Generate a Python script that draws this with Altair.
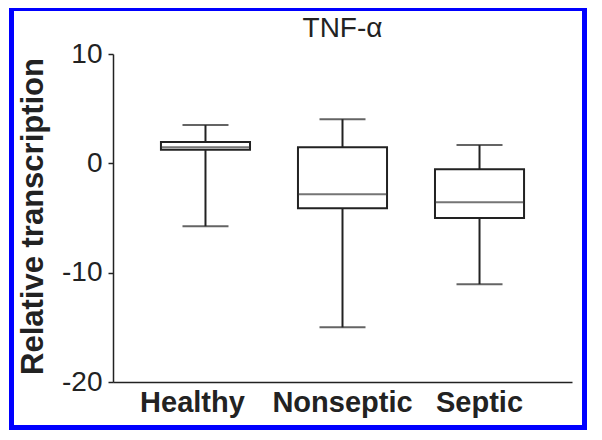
import altair as alt
import pandas as pd

# ---- data ----
groups = ["Healthy", "Nonseptic", "Septic"]
whisker_low = [-5.75, -15.0, -11.05]
q1 = [1.25, -4.1, -5.01]
median = [1.48, -2.82, -3.55]
q3 = [1.94, 1.48, -0.53]
whisker_high = [3.5, 4.04, 1.67]
y_ticks = [-20, -10, 0, 10]
title_text = ["TNF-α"]
y_title = "Relative transcription"

FONT = "Liberation Sans"
INK = "#222222"

df = pd.DataFrame({
    "group": groups,
    "low": whisker_low,
    "q1": q1,
    "median": median,
    "q3": q3,
    "high": whisker_high,
})

x_enc = alt.X(
    "group:N",
    sort=groups,
    scale=alt.Scale(paddingInner=0.35, paddingOuter=0.35),
    axis=alt.Axis(
        title=None, ticks=False, tickSize=0, labelAngle=0,
        labelFont=FONT, labelFontSize=29, labelFontWeight="bold",
        labelColor=INK, labelPadding=6, domainColor=INK, domainWidth=1.5,
        labelOffset={"condition": {"test": "datum.value === 'Healthy'", "value": -13}, "value": 0},
    ),
)

y_axis = alt.Axis(
    values=y_ticks, title=y_title, grid=False,
    labelExpr="datum.value + ''",
    labelFont=FONT, labelFontSize=28, labelColor=INK, labelPadding=6,
    tickSize=5, tickColor=INK, tickWidth=1.5,
    domainColor=INK, domainWidth=1.5,
    titleFont=FONT, titleFontSize=31, titleFontWeight="bold", titleColor=INK,
    titleAngle=270, titleX=-80, titleY=162, titleAlign="center", titleBaseline="middle",
)
y_scale = alt.Scale(domain=[-20, 10], nice=False, zero=False)

base = alt.Chart(df)

whisker = base.mark_rule(color=INK, strokeWidth=2).encode(
    x=x_enc,
    y=alt.Y("low:Q", scale=y_scale, axis=y_axis),
    y2="high:Q",
)
cap_low = base.mark_tick(color=INK, size=46, thickness=2).encode(
    x=x_enc, y=alt.Y("low:Q", scale=y_scale, axis=y_axis)
)
cap_high = base.mark_tick(color=INK, size=46, thickness=2).encode(
    x=x_enc, y=alt.Y("high:Q", scale=y_scale, axis=y_axis)
)
box = base.mark_bar(fill="white", stroke=INK, strokeWidth=2).encode(
    x=x_enc,
    y=alt.Y("q1:Q", scale=y_scale, axis=y_axis),
    y2="q3:Q",
)
med = base.mark_tick(color="#3a3a3a", size=88, thickness=2).encode(
    x=x_enc, y=alt.Y("median:Q", scale=y_scale, axis=y_axis)
)

title = alt.Chart(pd.DataFrame({"t": title_text})).mark_text(
    font=FONT, fontSize=28, color=INK, align="center", baseline="alphabetic"
).encode(x=alt.value(229.5), y=alt.value(-17), text="t:N")

border = alt.Chart(pd.DataFrame({"a": [0]})).mark_rect(
    stroke="#0000FF", strokeWidth=5, fillOpacity=0
).encode(
    x=alt.value(-101.5), x2=alt.value(471.5),
    y=alt.value(-45.5), y2=alt.value(373.5),
)

chart = alt.layer(whisker, cap_low, cap_high, box, med, title, border).properties(
    width=459,
    height=328,
    autosize=alt.AutoSizeParams(type="none"),
    padding={"left": 105, "top": 46, "right": 16, "bottom": 48},
    background="white",
).configure_view(stroke=None)

chart.save("out.html", embed_options={"renderer": "svg", "actions": False})
